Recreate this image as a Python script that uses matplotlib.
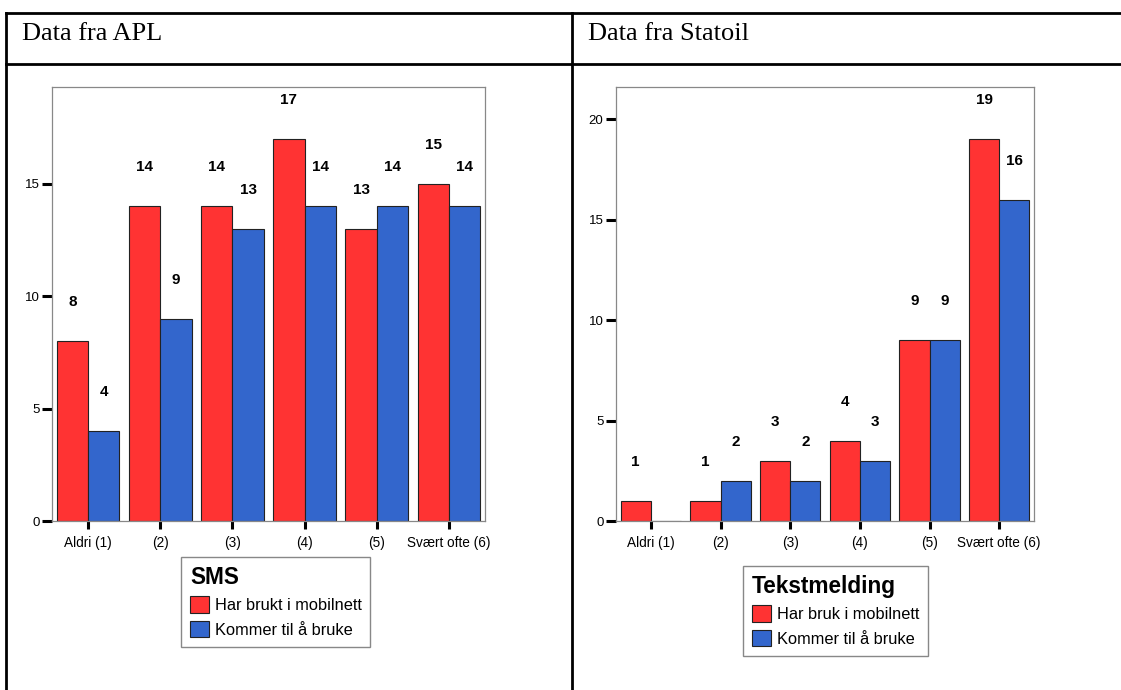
import numpy as np
import matplotlib
matplotlib.use('Agg')
import matplotlib.pyplot as plt
from matplotlib.lines import Line2D

plt.rcParams['font.family'] = ['Liberation Sans', 'DejaVu Sans']

categories = ['Aldri (1)', '(2)', '(3)', '(4)', '(5)', 'Svært ofte (6)']

apl_used = [8, 14, 14, 17, 13, 15]
apl_will = [4, 9, 13, 14, 14, 14]

statoil_used = [1, 1, 3, 4, 9, 19]
statoil_will = [0, 2, 2, 3, 9, 16]

apl_ticks = [0, 5, 10, 15]
statoil_ticks = [0, 5, 10, 15, 20]

RED = '#FF3333'
BLUE = '#3366CC'
W, H = 1121, 690


def px_box(x0, y0, x1, y1):
    return [x0 / W, 1 - y1 / H, (x1 - x0) / W, (y1 - y0) / H]


def draw_panel(fig, box, used, will, yticks, ymax, legend_pos, title, lab_used, lab_will):
    ax = fig.add_axes(box)
    x = np.arange(len(categories))
    bw = 0.435
    b1 = ax.bar(x - bw / 2, used, bw, color=RED, edgecolor='#222222', linewidth=0.8, label=lab_used)
    b2 = ax.bar(x + bw / 2, will, bw, color=BLUE, edgecolor='#222222', linewidth=0.8, label=lab_will)
    for bars, vals in ((b1, used), (b2, will)):
        for rect, v in zip(bars, vals):
            if v == 0:
                continue
            ax.annotate(str(v), (rect.get_x() + rect.get_width() / 2, v),
                        xytext=(0, 28), textcoords='offset points',
                        ha='center', va='center', fontsize=11, fontweight='bold')
    ax.set_xlim(-0.5, len(categories) - 0.5)
    ax.set_ylim(0, ymax)
    ax.set_xticks(x)
    ax.set_xticklabels(categories, fontsize=9.8)
    ax.set_yticks(yticks)
    ax.set_yticklabels([str(t) for t in yticks], fontsize=9.5)
    ax.tick_params(axis='x', length=6, width=2.2, pad=5, color='black')
    ax.tick_params(axis='y', length=7, width=2.2, pad=2, color='black')
    for s in ax.spines.values():
        s.set_color('#888888')
        s.set_linewidth(0.9)

    leg = fig.legend(handles=[b1, b2], loc='upper left',
                     bbox_to_anchor=(legend_pos[0] / W, 1 - legend_pos[1] / H),
                     bbox_transform=fig.transFigure, borderaxespad=0,
                     title=title, title_fontproperties={'weight': 'bold', 'size': 16.3},
                     fontsize=11.8, alignment='left', fancybox=False,
                     edgecolor='#888888', framealpha=1,
                     handlelength=1.15, handleheight=1.2, handletextpad=0.35,
                     labelspacing=0.45, borderpad=0.55)
    leg.get_frame().set_linewidth(1.0)
    return ax


def main():
    fig = plt.figure(figsize=(W / 100, H / 100), dpi=100)

    # table frame
    lw = 2.0
    for (x0, y0, x1, y1) in [(6, 13, W, 13), (6, 64, W, 64), (6, 13, 6, H), (572, 13, 572, H)]:
        fig.add_artist(Line2D([x0 / W, x1 / W], [1 - y0 / H, 1 - y1 / H],
                              color='black', linewidth=lw, transform=fig.transFigure))

    fig.text(22 / W, 1 - 34 / H, 'Data fra APL', fontsize=19,
             family=['Liberation Serif', 'DejaVu Serif'], va='center', ha='left')
    fig.text(588 / W, 1 - 34 / H, 'Data fra Statoil', fontsize=19,
             family=['Liberation Serif', 'DejaVu Serif'], va='center', ha='left')

    draw_panel(fig, px_box(52, 87, 485, 521), apl_used, apl_will, apl_ticks, 19.3,
               (181, 557), 'SMS', 'Har brukt i mobilnett', 'Kommer til å bruke')
    draw_panel(fig, px_box(616, 87, 1034, 521), statoil_used, statoil_will, statoil_ticks, 21.6,
               (743, 566), 'Tekstmelding', 'Har bruk i mobilnett', 'Kommer til å bruke')

    fig.savefig('out.png', dpi=100)


if __name__ == '__main__':
    main()
